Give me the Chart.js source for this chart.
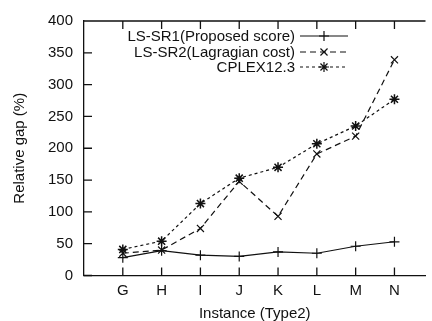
<!DOCTYPE html>
<html>
<head>
<meta charset="utf-8">
<script src="https://cdn.jsdelivr.net/npm/chart.js@4.4.1/dist/chart.umd.min.js"></script>
<style>
  html, body { margin: 0; padding: 0; background: #fff; overflow: hidden; }
  #wrap { width: 432px; height: 321px; position: relative; }
</style>
</head>
<body>
<div id="wrap"><canvas id="c"></canvas></div>
<script>
var categories = ["G", "H", "I", "J", "K", "L", "M", "N"];
var sr1 = [28, 39, 32, 30, 37, 35, 46, 53];
var sr2 = [35, 40, 74, 148, 93, 191, 219, 339];
var cplex = [41, 54, 113, 153, 170, 207, 235, 277];
var yTicks = [0, 50, 100, 150, 200, 250, 300, 350, 400];

var ink = "#111";
var font = { family: "'Liberation Sans', Arial, Helvetica, sans-serif", size: 15 };

function pts(arr)
{
    return arr.map(function(v, i) { return { x: i, y: v }; });
}

// gnuplot style frame: top border and inward tick marks
var frame = {
    id: "frame",
    afterDraw: function(chart)
    {
        var ctx = chart.ctx, a = chart.chartArea;
        var xs = chart.scales.x, ys = chart.scales.y;
        ctx.save();
        ctx.strokeStyle = ink;
        ctx.lineWidth = 1.3;
        ctx.setLineDash([]);
        ctx.beginPath();
        ctx.moveTo(a.left, a.top);
        ctx.lineTo(a.right, a.top);
        categories.forEach(function(c, i) {
            var px = xs.getPixelForValue(i);
            ctx.moveTo(px, a.bottom);
            ctx.lineTo(px, a.bottom - 8);
            ctx.moveTo(px, a.top);
            ctx.lineTo(px, a.top + 8);
        });
        yTicks.forEach(function(v) {
            var py = ys.getPixelForValue(v);
            ctx.moveTo(a.left, py);
            ctx.lineTo(a.left + 8, py);
        });
        ctx.stroke();
        ctx.restore();
    }
};

// legend inside the plot, text right-aligned with the sample on its right
var keyBox = {
    id: "keyBox",
    afterDraw: function(chart)
    {
        var ctx = chart.ctx;
        var rows = [36, 52, 67];
        ctx.save();
        ctx.font = font.size + "px " + font.family;
        ctx.textAlign = "right";
        ctx.textBaseline = "middle";
        chart.data.datasets.forEach(function(ds, i) {
            var y = rows[i];
            ctx.fillStyle = ink;
            ctx.fillText(ds.label, 295, y + 1);
            ctx.strokeStyle = ink;
            ctx.lineWidth = 1.2;
            ctx.setLineDash(ds.borderDash || []);
            ctx.beginPath();
            ctx.moveTo(300, y);
            ctx.lineTo(348, y);
            ctx.stroke();
            ctx.setLineDash([]);
            Chart.helpers.drawPoint(ctx, {
                pointStyle: ds.pointStyle,
                radius: ds.pointRadius,
                borderWidth: 1.2
            }, 324, y);
        });
        ctx.restore();
    }
};

new Chart(document.getElementById("c"), {
    type: "line",
    data: {
        datasets: [
            {
                label: "LS-SR1(Proposed score)",
                data: pts(sr1),
                borderColor: ink, backgroundColor: ink,
                borderWidth: 1.2, pointStyle: "cross", pointRadius: 5,
                pointBorderWidth: 1.2, borderDash: []
            },
            {
                label: "LS-SR2(Lagragian cost)",
                data: pts(sr2),
                borderColor: ink, backgroundColor: ink,
                borderWidth: 1.2, pointStyle: "crossRot", pointRadius: 5,
                pointBorderWidth: 1.2, borderDash: [6, 4]
            },
            {
                label: "CPLEX12.3",
                data: pts(cplex),
                borderColor: ink, backgroundColor: ink,
                borderWidth: 1.2, pointStyle: "star", pointRadius: 5,
                pointBorderWidth: 1.5, borderDash: [3, 3]
            }
        ]
    },
    options: {
        responsive: true,
        maintainAspectRatio: false,
        animation: false,
        layout: { padding: { left: 0, right: 0, top: 21, bottom: 0 } },
        plugins: { legend: { display: false }, tooltip: { enabled: false } },
        scales: {
            x: {
                type: "linear",
                min: -1,
                max: 7.8,
                afterBuildTicks: function(s) {
                    s.ticks = categories.map(function(c, i) { return { value: i }; });
                },
                afterFit: function(s) { s.height = 45.5; },
                ticks: {
                    color: ink, font: font, padding: 6, autoSkip: false, maxRotation: 0,
                    callback: function(v) { return categories[v]; }
                },
                grid: { display: false, drawTicks: false },
                border: { display: true, color: ink, width: 1.3 },
                title: { display: true, text: "Instance (Type2)", color: ink, font: font, padding: { top: 0, bottom: -2 } }
            },
            y: {
                min: 0,
                max: 400,
                afterBuildTicks: function(s) {
                    s.ticks = yTicks.map(function(v) { return { value: v }; });
                },
                afterFit: function(s) { s.width = 84; },
                ticks: { color: ink, font: font, padding: 11 },
                grid: { display: false, drawTicks: false },
                border: { display: true, color: ink, width: 1.3 },
                title: { display: true, text: "Relative gap (%)", color: ink, font: font, padding: { top: 11, bottom: 0 } }
            }
        }
    },
    plugins: [frame, keyBox]
});
</script>
</body>
</html>
